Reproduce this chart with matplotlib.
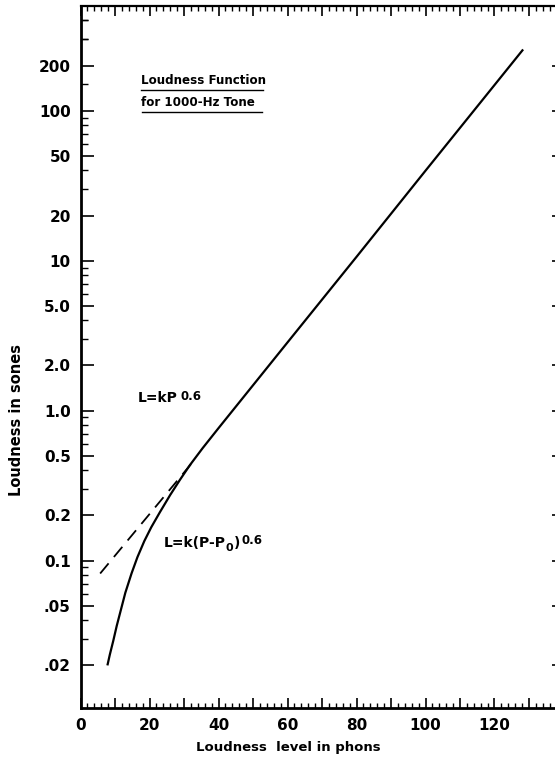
import matplotlib
matplotlib.use("Agg")
import matplotlib.pyplot as plt
from matplotlib.ticker import FixedLocator, NullFormatter, FixedFormatter

plt.rcParams['font.family'] = ['DejaVu Sans']

# Data
phons = [7.8, 8.5, 9.5, 10.5, 11.5, 13.0, 14.8, 16.5, 18.5, 20.5, 23.0, 26.0, 28.8,
         31.7, 35.4, 40, 60, 80, 100, 128.3]
sones = [0.0200, 0.0236, 0.0292, 0.0367, 0.0450, 0.0611, 0.0822, 0.1054, 0.135, 0.1667,
         0.210, 0.274, 0.345, 0.433, 0.562, 0.764, 2.85, 10.6, 39.8, 256]

dash_phons = [5.7, 32.9]
dash_sones = [0.082, 0.465]

x_ticks = [0, 20, 40, 60, 80, 100, 120]
y_ticks = [0.02, 0.05, 0.1, 0.2, 0.5, 1, 2, 5, 10, 20, 50, 100, 200]
y_ticklabels = ['.02', '.05', '0.1', '0.2', '0.5', '1.0', '2.0', '5.0', '10', '20', '50', '100', '200']
y_minor = [m * 10.0 ** e for e in range(-2, 3) for m in (3, 4, 6, 7, 8, 9)] + [150, 300, 400]

fig = plt.figure(figsize=(5.55, 7.6), dpi=100)
W, H = 555, 760
AX_L, AX_R, AX_B, AX_T = 80.5, 563.5, 708, 6   # pixel box (top-origin for B/T)
AW, AH = AX_R - AX_L, AX_B - AX_T
ax = fig.add_axes([AX_L / W, (H - AX_B) / H, AW / W, AH / H])

ax.plot(phons, sones, color='black', lw=1.6, solid_capstyle='butt')
ax.plot(dash_phons, dash_sones, color='black', lw=1.3, dashes=(7.3, 4.6))

ax.set_yscale('log')
ax.set_xlim(0, 140)
ax.set_ylim(0.0104, 499)

xmaj = list(range(0, 141, 10))
ax.xaxis.set_major_locator(FixedLocator(xmaj))
ax.xaxis.set_major_formatter(FixedFormatter([str(v) if v in x_ticks else '' for v in xmaj]))
ax.xaxis.set_minor_locator(FixedLocator([v for v in range(0, 141, 2) if v % 10]))
ax.yaxis.set_major_locator(FixedLocator(y_ticks))
ax.yaxis.set_major_formatter(FixedFormatter(y_ticklabels))
ax.yaxis.set_minor_locator(FixedLocator(y_minor))
ax.yaxis.set_minor_formatter(NullFormatter())

for s in ax.spines.values():
    s.set_linewidth(1.6)
ax.spines['left'].set_linewidth(2.0)
ax.spines['bottom'].set_linewidth(2.0)

ax.tick_params(axis='x', which='major', direction='in', length=7.5, width=1.2,
               top=True, bottom=True, labelsize=11, pad=7)
ax.tick_params(axis='x', which='minor', direction='in', length=3.5, width=1.0,
               top=True, bottom=True)
ax.tick_params(axis='y', which='major', direction='in', length=9, width=1.2,
               left=True, right=True, labelsize=11, pad=7)
ax.tick_params(axis='y', which='minor', direction='in', length=5, width=1.0,
               left=True, right=True)
for lab in ax.get_xticklabels() + ax.get_yticklabels():
    lab.set_fontweight('bold')

ax.set_xlabel('Loudness  level in phons', fontsize=9.5, fontweight='bold')
ax.xaxis.set_label_coords((288 - AX_L) / AW, -(741 - AX_B) / AH)
ax.set_ylabel('Loudness in sones', fontsize=10.5, fontweight='bold')
ax.yaxis.set_label_coords(-(AX_L - 24) / AW, (AX_B - 420) / AH)

# Title block with underlines
tx0 = (141 - AX_L) / AW
tx1 = (263 - AX_L) / AW
ax.text(tx0, (AX_B - 81) / AH, 'Loudness Function', transform=ax.transAxes,
        fontsize=8.6, fontweight='bold', ha='left', va='center')
ax.text(tx0, (AX_B - 103) / AH, 'for 1000-Hz Tone', transform=ax.transAxes,
        fontsize=8.6, fontweight='bold', ha='left', va='center')
ax.plot([tx0, tx1], [(AX_B - 90) / AH] * 2, transform=ax.transAxes, color='black', lw=1.0)
ax.plot([tx0 + 0.002, tx1 - 0.002], [(AX_B - 112) / AH] * 2, transform=ax.transAxes,
        color='black', lw=1.0)

# Formula labels
t1 = ax.text(16.7, 1.215, 'L=kP', fontsize=10, fontweight='bold', ha='left', va='center')
ax.annotate('0.6', xy=(1, 0.6), xycoords=t1, xytext=(2, 0), textcoords='offset points',
            fontsize=8.5, fontweight='bold', ha='left', va='center')

t2 = ax.text(24.0, 0.131, 'L=k(P-P', fontsize=10, fontweight='bold', ha='left', va='center')
t3 = ax.annotate('0', xy=(1, 0.12), xycoords=t2, xytext=(0.3, 0), textcoords='offset points',
                 fontsize=8, fontweight='bold', ha='left', va='center')
t4 = ax.annotate(')', xy=(1, 0.5), xycoords=(t3, t2), xytext=(0.3, 0), textcoords='offset points',
                 fontsize=10, fontweight='bold', ha='left', va='center')
ax.annotate('0.6', xy=(1, 0.68), xycoords=t4, xytext=(1.0, 0), textcoords='offset points',
            fontsize=8.5, fontweight='bold', ha='left', va='center')

fig.savefig('out.png', dpi=100)
